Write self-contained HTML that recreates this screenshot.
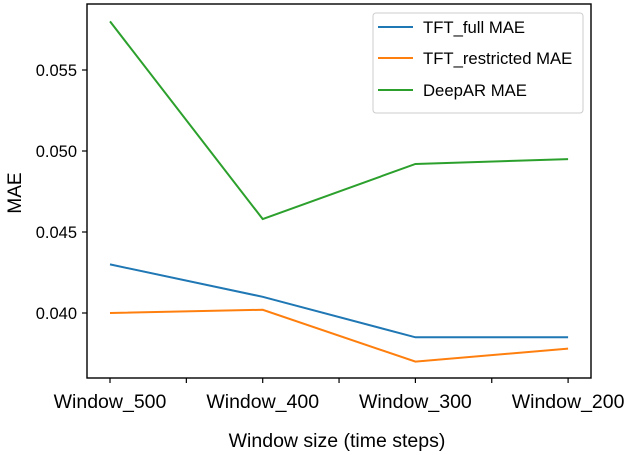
<!DOCTYPE html>
<html><head><meta charset="utf-8"><style>
body{margin:0;background:#fff}
svg{display:block;font-family:"Liberation Sans",Arial,sans-serif}
</style></head><body>
<svg id="chart" width="624" height="455">
<rect x="87" y="4" width="504" height="374" fill="none" stroke="#000" stroke-width="1.4"/>
<g id="marks"></g>
<g id="axes"></g>
<text x="337" y="447" text-anchor="middle" font-size="19.5">Window size (time steps)</text>
<text transform="translate(21,193) rotate(-90)" text-anchor="middle" font-size="19">MAE</text>
<g>
<rect x="373" y="13" width="210" height="100" rx="3" fill="#fff" stroke="#ccc"/>
<line x1="378" y1="27" x2="413" y2="27" stroke="#1f77b4" stroke-width="2"/>
<text x="423" y="33" font-size="16.7">TFT_full MAE</text>
<line x1="378" y1="58" x2="413" y2="58" stroke="#ff7f0e" stroke-width="2"/>
<text x="423" y="64" font-size="16.7">TFT_restricted MAE</text>
<line x1="378" y1="90" x2="413" y2="90" stroke="#2ca02c" stroke-width="2"/>
<text x="423" y="96" font-size="16.7">DeepAR MAE</text>
</g>
</svg>
<script>
const categories=["Window_500","Window_400","Window_300","Window_200"];
const tftFull=[0.0430,0.0410,0.0385,0.0385];
const tftRestricted=[0.0400,0.0402,0.0370,0.0378];
const deepAR=[0.0580,0.0458,0.0492,0.0495];
const yTicks=[0.040,0.045,0.050,0.055];
const yTickLabels=["0.040","0.045","0.050","0.055"];
const NS="http://www.w3.org/2000/svg";
function xPos(i){return 110+i*152.7;}
function yPos(v){return 313-(v-0.040)/0.005*81;}
const marks=document.getElementById('marks'),axes=document.getElementById('axes');
function mk(t,a,p){const e=document.createElementNS(NS,t);for(const k in a)e.setAttribute(k,a[k]);p.appendChild(e);return e;}
[[tftFull,'#1f77b4','tft-full'],[tftRestricted,'#ff7f0e','tft-restricted'],[deepAR,'#2ca02c','deepar']].forEach(([d,c,n])=>{
const pl=mk('polyline',{points:d.map((v,i)=>xPos(i)+','+yPos(v)).join(' '),fill:'none',stroke:c,'stroke-width':2},marks);


});
yTicks.forEach((v,i)=>{
const l=mk('line',{x1:82,x2:87,y1:yPos(v),y2:yPos(v),stroke:'#000','stroke-width':1.2},axes);


const t=mk('text',{x:77,y:yPos(v)+6,'text-anchor':'end','font-size':16.5},axes);
t.textContent=yTickLabels[i];


});
for(let k=0;k<=6;k++){
const x=xPos(k/2);
const l=mk('line',{x1:x,x2:x,y1:378,y2:383,stroke:'#000','stroke-width':1.2},axes);


}
categories.forEach((c,i)=>{
const t=mk('text',{x:xPos(i),y:408,'text-anchor':'middle','font-size':19.5},axes);
t.textContent=c;


});
</script>
</body></html>
